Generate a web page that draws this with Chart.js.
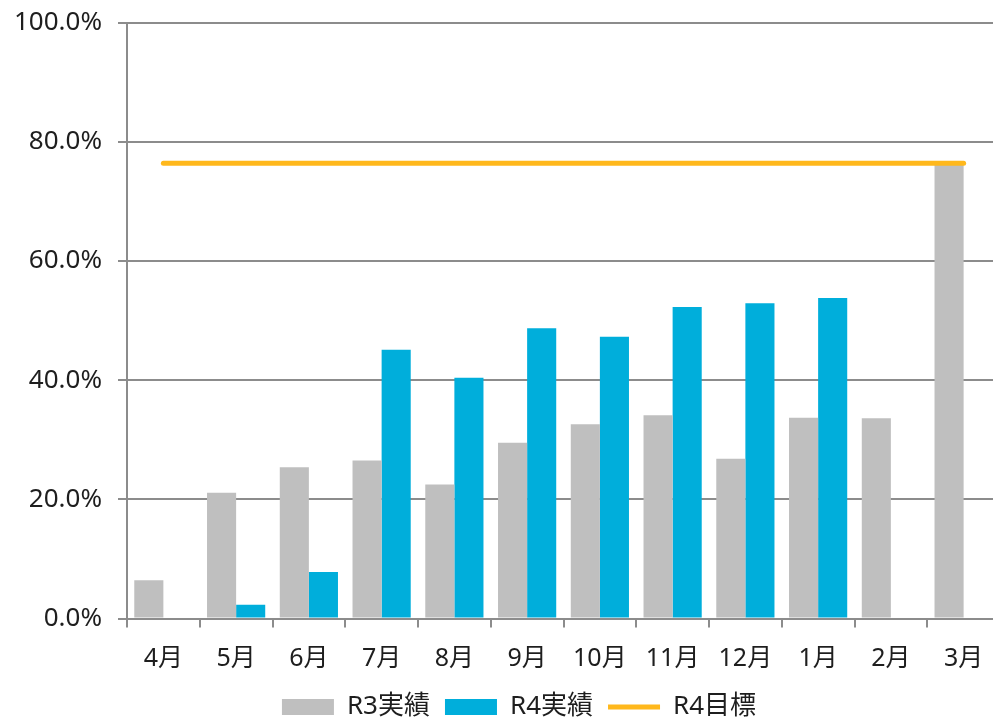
<!DOCTYPE html>
<html lang="ja">
<head>
<meta charset="utf-8">
<script src="https://cdn.jsdelivr.net/npm/chart.js@4/dist/chart.umd.min.js"></script>
<style>
  html, body { margin: 0; padding: 0; background: #fff; overflow: hidden; }
  #wrap { position: relative; width: 1000px; height: 718px; }
</style>
</head>
<body>
<div id="wrap"><canvas id="c"></canvas></div>
<script>
// 月別の実績と目標（%）
const months = ['4月', '5月', '6月', '7月', '8月', '9月', '10月', '11月', '12月', '1月', '2月', '3月'];
const r3Actual = [6.4, 21.1, 25.4, 26.5, 22.5, 29.5, 32.6, 34.1, 26.8, 33.7, 33.6, 76.4];
const r4Actual = [null, 2.3, 7.8, 45.1, 40.4, 48.7, 47.3, 52.3, 52.9, 53.8, null, null];
const r4Target = [76.4, 76.4, 76.4, 76.4, 76.4, 76.4, 76.4, 76.4, 76.4, 76.4, 76.4, 76.4];
const yTicks = [0, 20, 40, 60, 80, 100];

const FONT = '"Noto Sans", "Noto Sans CJK JP", sans-serif';
const AXIS = '#8c8c8c';
const TEXT = '#1e1e1e';

// 凡例を少し右寄せにする
const legendShift = {
  id: 'legendShift',
  afterLayout(chart) {
    const lg = chart.legend;
    if (lg) { lg.left += 19; lg.right += 19; }
  }
};

new Chart(document.getElementById('c'), {
  data: {
    labels: months,
    datasets: [
      {
        type: 'bar', label: 'R3実績', data: r3Actual,
        backgroundColor: '#bfbfbf', order: 2,
        categoryPercentage: 0.8, barPercentage: 1.0,
        pointStyle: 'rect'
      },
      {
        type: 'bar', label: 'R4実績', data: r4Actual,
        backgroundColor: '#00aedb', order: 2,
        categoryPercentage: 0.8, barPercentage: 1.0,
        pointStyle: 'rect'
      },
      {
        type: 'line', label: 'R4目標', data: r4Target,
        borderColor: '#ffb81c', backgroundColor: '#ffb81c',
        borderWidth: 5, borderCapStyle: 'round',
        pointRadius: 0, pointHoverRadius: 0, pointStyle: 'line',
        fill: false, order: 1
      }
    ]
  },
  plugins: [legendShift],
  options: {
    responsive: true,
    maintainAspectRatio: false,
    animation: false,
    events: [],
    layout: { padding: { top: 22.7, right: 0, bottom: -12, left: 0 } },
    plugins: {
      tooltip: { enabled: false },
      legend: {
        position: 'bottom',
        labels: {
          usePointStyle: true,
          pointStyleWidth: 52,
          boxHeight: 16,
          padding: 15,
          color: TEXT,
          font: { family: FONT, size: 26 },
          sort: (a, b) => a.datasetIndex - b.datasetIndex
        }
      }
    },
    scales: {
      x: {
        offset: true,
        afterFit: (scale) => { scale.height = 60.5; },
        grid: {
          offset: true, drawOnChartArea: false, drawTicks: true,
          tickLength: 9, color: AXIS, lineWidth: 2
        },
        border: { display: true, color: AXIS, width: 2 },
        ticks: {
          color: TEXT, padding: 16,
          font: { family: FONT, size: 25 }
        }
      },
      y: {
        min: 0, max: 100,
        afterBuildTicks: (scale) => { scale.ticks = yTicks.map(v => ({ value: v })); },
        afterFit: (scale) => { scale.width = 127; scale.paddingTop = 0; scale.paddingBottom = 0; },
        grid: { color: AXIS, lineWidth: 2, tickLength: 9, drawTicks: true },
        border: { display: true, color: AXIS, width: 2 },
        ticks: {
          color: TEXT, padding: 16,
          font: { family: FONT, size: 26 },
          callback: (v) => v.toFixed(1) + '%'
        }
      }
    }
  }
});
</script>
</body>
</html>
